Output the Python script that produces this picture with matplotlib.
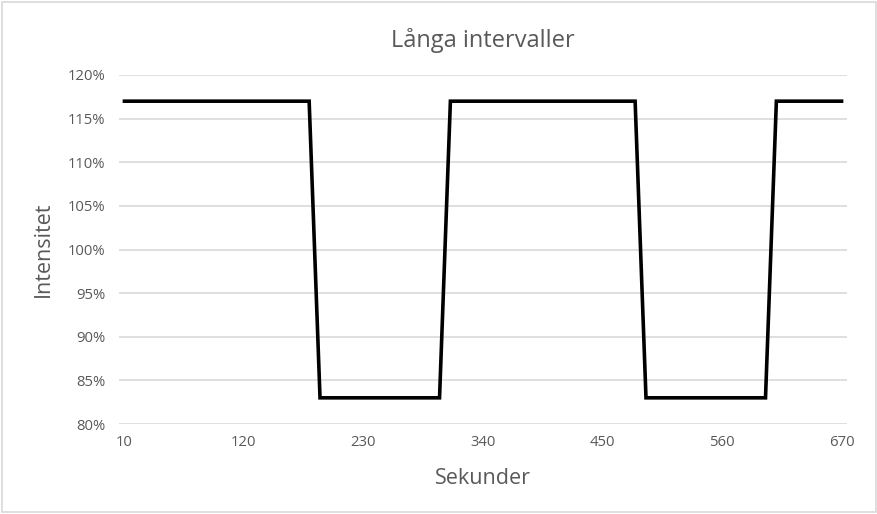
import numpy as np
from matplotlib import pyplot as plt
from matplotlib.patches import Rectangle

# Interval data: seconds (every 10 s) and intensity in percent
seconds = list(range(10, 680, 10))
high = 117
low = 83
intensity = [high] * 18 + [low] * 12 + [high] * 18 + [low] * 12 + [high] * 7
tick_labels = [str(s) for s in seconds[::11]]

plt.rcParams['font.family'] = ['Open Sans', 'DejaVu Sans']
txt = '#595959'

fig = plt.figure(figsize=(8.78, 5.14), dpi=100)
ax = fig.add_axes([119 / 878, 1 - 424 / 514, 728 / 878, 349 / 514])

idx = np.arange(len(seconds))
ax.plot(idx, intensity, color='black', linewidth=2.6, solid_joinstyle='miter')

ax.set_xlim(-0.5, len(seconds) - 0.5)
ax.set_ylim(80, 120)
ax.set_yticks(np.arange(80, 121, 5))
ax.set_yticklabels([f'{v}%' for v in range(80, 121, 5)])
ax.set_xticks(idx[::11])
ax.set_xticklabels(tick_labels)
ax.yaxis.grid(True, color='#d9d9d9', linewidth=1.2)
ax.set_axisbelow(True)
for s in ax.spines.values():
    s.set_visible(False)
ax.tick_params(length=0, labelsize=10.7, colors=txt, pad=8)
ax.tick_params(axis='y', pad=10)

ax.set_xlabel('Sekunder', fontsize=15.5, color=txt, labelpad=13)
ax.set_ylabel('Intensitet', fontsize=15.5, color=txt, labelpad=10)
ax.set_title('Långa intervaller', fontsize=17, color=txt, pad=20)

fig.patches.append(Rectangle((0.002, 0.003), 0.996, 0.994, transform=fig.transFigure,
                             fill=False, edgecolor='#d9d9d9', linewidth=1.2))

fig.savefig('out.png', dpi=100)
